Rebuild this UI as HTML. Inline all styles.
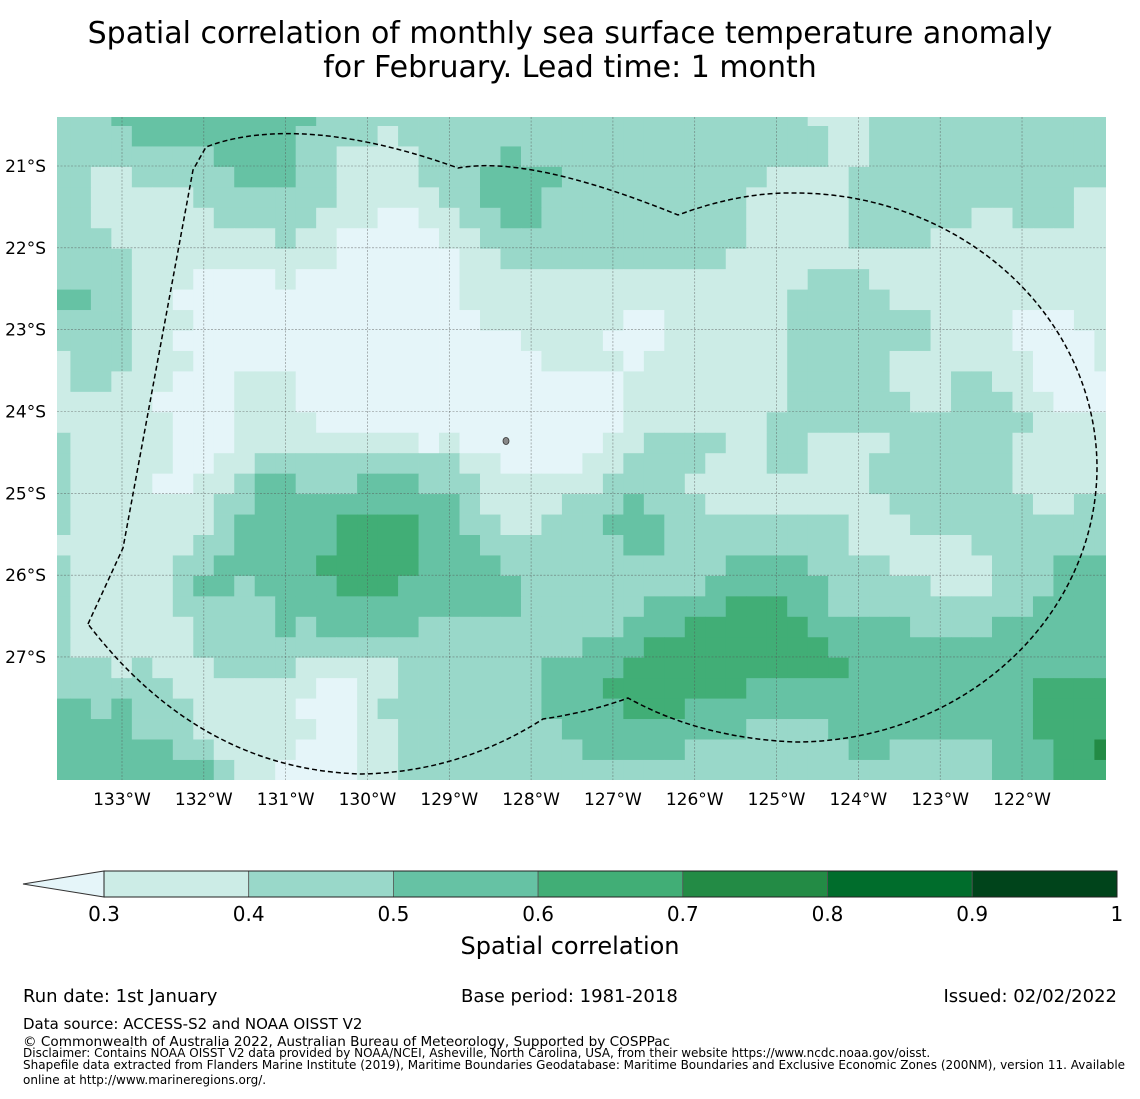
<!DOCTYPE html>
<html><head><meta charset="utf-8">
<style>
html,body{margin:0;padding:0;background:#fff;}
body{width:1140px;height:1095px;overflow:hidden;font-family:"DejaVu Sans","Liberation Sans",sans-serif;}
svg text{font-family:"DejaVu Sans","Liberation Sans",sans-serif;fill:#000;}
</style></head>
<body>
<svg id="chart" width="1140" height="1095" viewBox="0 0 1140 1095" xmlns="http://www.w3.org/2000/svg">
<text x="570" y="43" font-size="30" text-anchor="middle">Spatial correlation of monthly sea surface temperature anomaly</text>
<text x="570" y="77" font-size="30" text-anchor="middle">for February. Lead time: 1 month</text>
<g id="cells"></g>
<g id="grid"></g>
<path fill="none" stroke="#000" stroke-width="1.5" stroke-dasharray="5,3"
 d="M88,624 L123,548 L193,170 L206,147 C250,130 330,122 458,168 Q530,155 678,215 Q740,192 795,193 A302,275 0 0 1 1097,467 A302,275 0 0 1 795,742 Q700,738 628,698 Q590,712 543,719 Q460,772 362,774 Q200,770 88,624 Z"/>
<ellipse cx="506" cy="441" rx="3" ry="3.5" fill="#888" stroke="#333" stroke-width="0.8"/>
<g id="xticks"></g>
<g id="yticks"></g>
<g id="cbar"></g>
<text x="570" y="954" font-size="24" text-anchor="middle">Spatial correlation</text>
<text x="23" y="1002" font-size="18">Run date: 1st January</text>
<text x="461" y="1002" font-size="18">Base period: 1981-2018</text>
<text x="1117" y="1002" font-size="18" text-anchor="end">Issued: 02/02/2022</text>
<text x="23" y="1029" font-size="15">Data source: ACCESS-S2 and NOAA OISST V2</text>
<text x="23" y="1046" font-size="13.6">© Commonwealth of Australia 2022, Australian Bureau of Meteorology, Supported by COSPPac</text>
<text x="23" y="1057" font-size="12">Disclaimer: Contains NOAA OISST V2 data provided by NOAA/NCEI, Asheville, North Carolina, USA, from their website https://www.ncdc.noaa.gov/oisst.</text>
<text x="23" y="1069" font-size="12">Shapefile data extracted from Flanders Marine Institute (2019), Maritime Boundaries Geodatabase: Maritime Boundaries and Exclusive Economic Zones (200NM), version 11. Available</text>
<text x="23" y="1084" font-size="12">online at http://www.marineregions.org/.</text>
</svg>
<script>
// run-length encoded level codes per grid row (north to south): "level x count"
// level 0 = <0.3, 1 = 0.3-0.4, 2 = 0.4-0.5, 3 = 0.5-0.6, 4 = 0.6-0.7, 5 = 0.7-0.8
const rows = [
"2x3 3x10 2x13 2x11 1x3 2x12",
"2x4 3x8 2x4 1x1 2x9 2x12 1x2 2x12",
"2x8 3x4 2x2 1x4 2x4 3x1 2x3 2x12 1x2 2x12",
"2x2 1x2 2x5 3x3 2x2 1x4 2x3 3x4 2x1 2x9 1x4 2x13",
"2x2 1x5 2x7 1x5 2x2 3x3 2x2 2x8 1x5 2x11 1x2",
"2x2 1x6 2x5 1x3 0x2 1x2 2x2 3x2 2x2 2x8 1x5 2x6 1x2 2x3 1x2",
"2x3 1x8 2x1 1x2 0x5 1x2 2x5 2x8 1x5 2x4 1x9",
"2x4 1x10 0x6 1x2 2x4 2x7 1x19",
"2x4 1x3 0x4 1x1 0x8 1x6 1x11 2x3 1x12",
"3x2 2x2 1x2 0x14 1x6 1x10 2x5 1x11",
"2x4 1x3 0x14 1x5 1x2 0x2 1x6 2x7 1x4 0x3 1x2",
"2x4 1x2 0x17 1x3 1x1 0x3 1x6 2x7 1x4 0x4 1x1",
"1x1 2x3 1x3 0x17 1x2 1x2 0x1 1x7 2x5 1x7 0x3 1x1",
"1x1 2x2 1x3 0x3 1x3 0x14 0x2 1x8 2x5 1x3 2x2 1x2 0x4",
"1x5 0x4 1x3 0x14 0x2 1x8 2x6 1x2 2x3 1x2 0x3",
"1x6 0x3 1x4 0x13 0x2 1x7 2x13 1x4",
"2x1 1x5 0x3 1x9 0x1 1x1 0x6 0x1 1x2 2x4 1x2 2x2 1x4 2x6 1x5",
"2x1 1x5 0x2 1x2 2x10 1x2 0x4 1x2 2x4 1x3 2x2 1x3 2x7 1x5",
"2x1 1x4 0x2 1x2 2x1 3x2 2x3 3x3 2x3 1x5 1x1 2x4 1x9 2x7 1x5",
"2x1 1x7 2x2 3x10 2x1 1x4 2x1 2x2 3x1 2x3 1x9 2x7 1x2 2x2",
"2x1 1x7 2x1 3x5 4x4 3x2 2x2 1x2 2x2 2x1 3x3 2x9 1x3 2x10",
"1x7 2x2 3x5 4x4 3x3 2x5 2x2 3x2 2x9 1x6 2x7",
"2x1 1x5 2x2 3x5 4x5 3x4 2x4 2x7 3x4 2x4 1x5 2x3 3x3",
"2x1 1x5 2x1 3x2 2x1 3x4 4x3 3x6 2x3 2x6 3x6 2x5 1x3 2x3 3x3",
"2x1 1x5 2x5 3x12 2x3 2x3 3x4 4x3 3x2 2x10 3x4",
"2x1 1x6 2x4 3x1 2x1 3x5 2x8 2x2 3x3 4x6 3x5 2x4 3x6",
"2x1 1x6 2x19 3x3 4x9 3x14",
"2x3 1x1 2x1 1x3 2x4 1x5 2x7 3x2 3x2 4x11 3x13",
"2x6 1x7 0x2 1x2 2x7 3x2 3x1 4x7 3x14 4x4",
"3x2 2x1 3x1 2x3 1x5 0x3 1x1 2x8 3x2 3x2 4x3 3x17 4x4",
"3x4 2x3 1x6 0x2 1x2 2x8 3x1 3x8 2x4 3x10 4x4",
"3x6 2x2 1x4 0x3 1x2 2x9 3x5 2x8 3x2 2x5 3x3 4x2 5x1",
"3x8 2x1 1x2 0x4 1x2 2x9 2x20 3x3 4x3"
];
const levelColors = ["#e5f5f9","#ccece6","#99d8c9","#66c2a4","#41ae76","#238b45","#006d2c","#00441b"];
const cbarTicks = ["0.3","0.4","0.5","0.6","0.7","0.8","0.9","1"];
const lonTicks = [133,132,131,130,129,128,127,126,125,124,123,122];
const latTicks = [21,22,23,24,25,26,27];

const NS="http://www.w3.org/2000/svg";
const lonX = l => 122 + (133 - l) * 81.82;
const latY = l => 166 + (l - 21) * 81.83;
const colX = c => c === 0 ? 57 : Math.min(1106, 70.4 + 20.48 * (c - 1));
const rowY = r => r === 0 ? 117 : Math.min(780, 126 + 20.45 * (r - 1));

function decode(s){
  const out=[];
  s.split(' ').forEach(p=>{const [v,n]=p.split('x');for(let i=0;i<+n;i++)out.push(+v);});
  while(out.length<52) out.push(out[out.length-1]);
  return out;
}

const cells=document.getElementById('cells');
rows.forEach((rs,r)=>{
  const row=decode(rs);
  for(let c=0;c<52;c++){
    const lv=row[c];
    const x0=colX(c), x1=colX(c+1), y0=rowY(r), y1=rowY(r+1);
    if(x1<=x0||y1<=y0) continue;
    const el=document.createElementNS(NS,'rect');
    el.setAttribute('x',x0.toFixed(2)); el.setAttribute('y',y0.toFixed(2));
    el.setAttribute('width',(Math.min(1106,x1+0.4)-x0).toFixed(2)); el.setAttribute('height',(Math.min(780,y1+0.4)-y0).toFixed(2));
    el.setAttribute('fill',levelColors[lv]);
    
    
    cells.appendChild(el);
  }
});

const grid=document.getElementById('grid');
const xt=document.getElementById('xticks');
lonTicks.forEach(l=>{
  const x=lonX(l);
  const ln=document.createElementNS(NS,'line');
  ln.setAttribute('x1',x);ln.setAttribute('x2',x);ln.setAttribute('y1',117);ln.setAttribute('y2',780);
  ln.setAttribute('stroke','#555');ln.setAttribute('stroke-width','0.6');ln.setAttribute('stroke-dasharray','2,1.5');ln.setAttribute('opacity','0.7');
  
  
  grid.appendChild(ln);
  const t=document.createElementNS(NS,'text');
  t.setAttribute('x',x);t.setAttribute('y',805);t.setAttribute('font-size','17');t.setAttribute('text-anchor','middle');
  t.textContent=l+'°W';
  
  
  xt.appendChild(t);
});
const yt=document.getElementById('yticks');
latTicks.forEach(l=>{
  const y=latY(l);
  const ln=document.createElementNS(NS,'line');
  ln.setAttribute('x1',57);ln.setAttribute('x2',1106);ln.setAttribute('y1',y);ln.setAttribute('y2',y);
  ln.setAttribute('stroke','#555');ln.setAttribute('stroke-width','0.6');ln.setAttribute('stroke-dasharray','2,1.5');ln.setAttribute('opacity','0.7');
  
  
  grid.appendChild(ln);
  const t=document.createElementNS(NS,'text');
  t.setAttribute('x',46);t.setAttribute('y',y+6);t.setAttribute('font-size','17');t.setAttribute('text-anchor','end');
  t.textContent=l+'°S';
  
  
  yt.appendChild(t);
});

const cb=document.getElementById('cbar');
const cbX = i => 104 + i * 144.7;
const tri=document.createElementNS(NS,'polygon');
tri.setAttribute('points','23,884 104,871 104,897');
tri.setAttribute('fill',levelColors[0]);tri.setAttribute('stroke','#333');tri.setAttribute('stroke-width','1');


cb.appendChild(tri);
for(let i=0;i<7;i++){
  const r=document.createElementNS(NS,'rect');
  r.setAttribute('x',cbX(i));r.setAttribute('y',871);r.setAttribute('width',144.7);r.setAttribute('height',26);
  r.setAttribute('fill',levelColors[i+1]);r.setAttribute('stroke','#555');r.setAttribute('stroke-width','0.8');
  
  
  cb.appendChild(r);
}
const frame=document.createElementNS(NS,'rect');
frame.setAttribute('x',104);frame.setAttribute('y',871);frame.setAttribute('width',1013);frame.setAttribute('height',26);
frame.setAttribute('fill','none');frame.setAttribute('stroke','#222');frame.setAttribute('stroke-width','1');


cb.appendChild(frame);
cbarTicks.forEach((s,i)=>{
  const t=document.createElementNS(NS,'text');
  t.setAttribute('x',cbX(i));t.setAttribute('y',921);t.setAttribute('font-size','20');t.setAttribute('text-anchor','middle');
  t.textContent=s;
  
  
  cb.appendChild(t);
});
</script>
</body></html>
